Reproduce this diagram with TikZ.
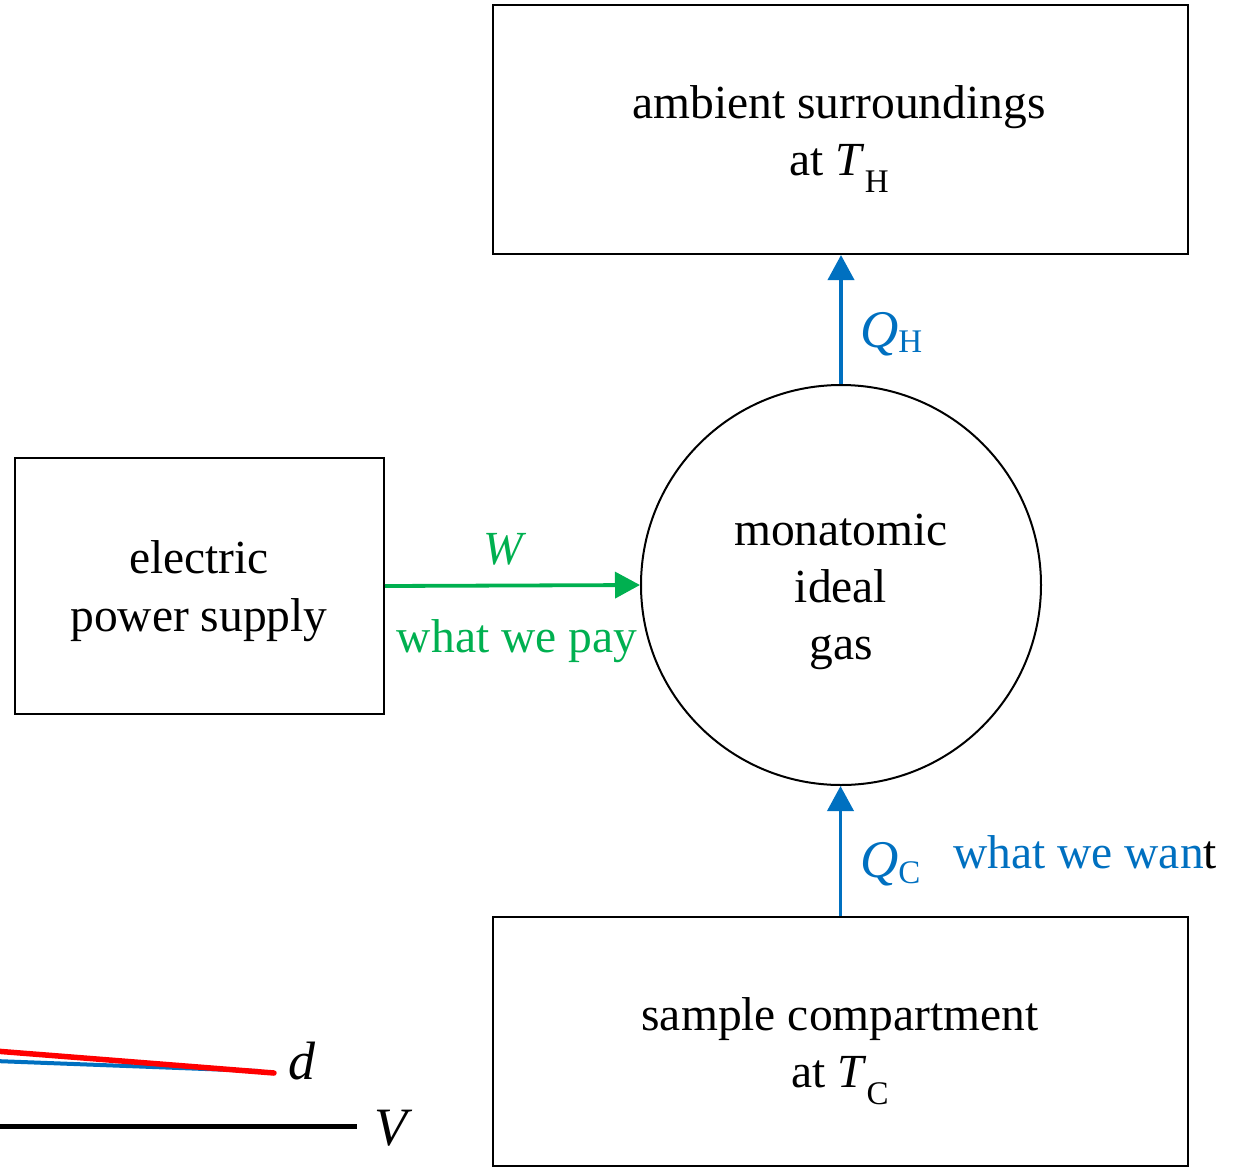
\documentclass[tikz,border=0pt]{standalone}
\usepackage{fontspec}
\setmainfont{Liberation Serif}
\usetikzlibrary{arrows.meta}
\definecolor{qblue}{HTML}{0070C0}
\definecolor{wgreen}{HTML}{00B050}
\definecolor{fred}{HTML}{FF0000}
\newcommand{\subtxt}[2]{\raisebox{-#1}{\fontsize{33}{33}\selectfont #2}}
\begin{document}
\begin{tikzpicture}[x=1pt,y=-1pt,
  every node/.style={font=\fontsize{47.5}{57}\selectfont},
  boxnode/.style={draw=black,line width=2pt,inner sep=0pt,fill=none},
  txt/.style={anchor=base,inner sep=0pt},
  flowarrow/.style={line width=3.8pt,-{Triangle[width=26pt,length=25pt]}},
  qlbl/.style={anchor=base west,inner sep=0pt,text=qblue},
  biglbl/.style={anchor=base west,inner sep=0pt,font=\fontsize{54}{60}\selectfont\itshape}]
\useasboundingbox (0,0) rectangle (1253,1167);

% boxes
\node[boxnode,minimum width=695pt,minimum height=249pt] (amb) at (840.5,129.5) {};
\node[boxnode,minimum width=369pt,minimum height=256pt] (eps) at (199.5,586) {};
\node[boxnode,minimum width=695pt,minimum height=249pt] (samp) at (840.5,1041.5) {};
\node[boxnode,circle,minimum size=400pt] (gas) at (841,585) {};

% box texts
\node[txt] (ambt1) at (839,118) {ambient surroundings};
\node[txt] (ambt2) at (839,175) {at \textit{T}\subtxt{17pt}{H}};
\node[txt] (epst1) at (199,573) {electric};
\node[txt] (epst2) at (199,631) {power supply};
\node[txt] (gast1) at (841,545) {monatomic};
\node[txt] (gast2) at (841,602) {ideal};
\node[txt] (gast3) at (841,659) {gas};
\node[txt] (sampt1) at (840,1030) {sample compartment};
\node[txt] (sampt2) at (840,1087) {at \textit{T}\subtxt{17pt}{C}};

% arrows
\draw[flowarrow,qblue] (gas.north) -- (gas.north |- amb.south);
\draw[flowarrow,wgreen] (eps.east) -- (gas.west);
\draw[flowarrow,qblue] (samp.north) -- (samp.north |- gas.south);

% arrow labels
\node[qlbl] (qh) at (860,347) {{\fontsize{53}{57}\selectfont\itshape Q}\subtxt{5pt}{H}};
\node[txt,text=wgreen] (w) at (505,564) {\textit{W}};
\node[txt,text=wgreen] (pay) at (517,652) {what we pay};
\node[qlbl] (qc) at (860,877) {{\fontsize{53}{57}\selectfont\itshape Q}\subtxt{6pt}{C}};
\node[anchor=base west,inner sep=0pt] (want) at (953,868) {\textcolor{qblue}{what we wan}t};

% fragment at bottom left
\draw[qblue,line width=4pt,line cap=round] (-5,1061) -- (258,1071);
\draw[fred,line width=5.5pt,line cap=round] (-5,1051) -- (274,1073);
\node[biglbl] (dl) at (288,1079) {d};
\draw[black,line width=5pt] (-5,1126) -- (357,1126);
\node[biglbl] (vl) at (374,1145) {V};
\end{tikzpicture}
\end{document}
